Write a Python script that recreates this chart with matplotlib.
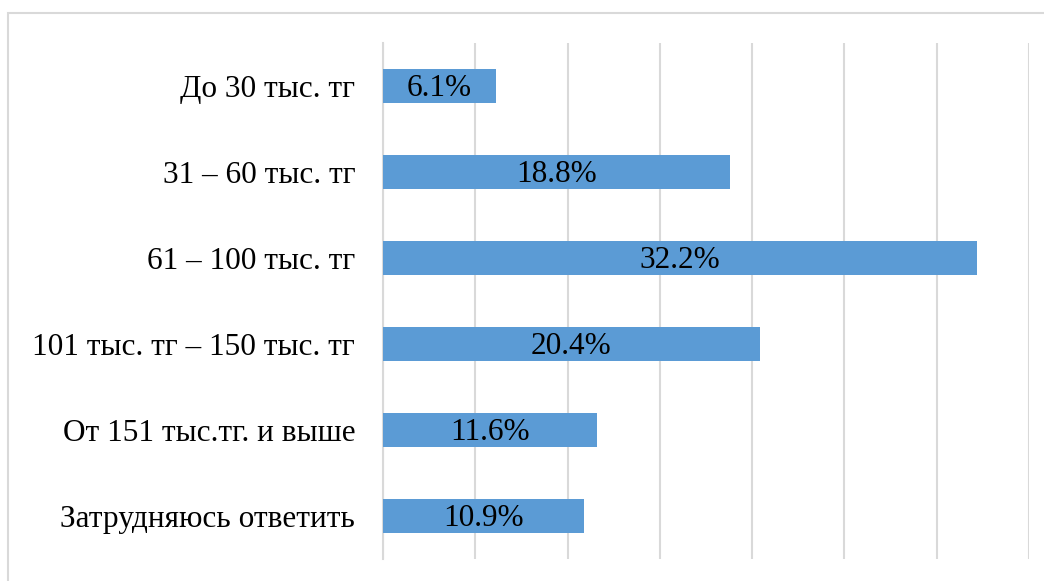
import matplotlib
matplotlib.use("Agg")
import matplotlib.pyplot as plt
from matplotlib.patches import Rectangle

categories = ["До 30 тыс. тг", "31 – 60 тыс. тг", "61 – 100 тыс. тг",
              "101 тыс. тг – 150 тыс. тг", "От 151 тыс.тг. и выше", "Затрудняюсь ответить"]
values = [6.1, 18.8, 32.2, 20.4, 11.6, 10.9]

plt.rcParams['font.family'] = ['Liberation Serif', 'DejaVu Serif']

W, H = 1044, 581
fig = plt.figure(figsize=(W/100, H/100), dpi=100)
ax = fig.add_axes([383/W, 1-559/H, (1029-383)/W, (559-43)/H])

pos = list(range(len(categories)))
ax.barh(pos, values, height=0.4, color='#5B9BD5', zorder=3)
ax.set_ylim(len(categories)-0.5, -0.5)
ax.set_xlim(0, 35)
ax.set_xticks([0, 5, 10, 15, 20, 25, 30, 35])
ax.set_xticklabels([])
ax.tick_params(axis='x', length=0)
ax.tick_params(axis='y', length=0, pad=20, labelsize=22.5)
ax.set_yticks(pos)
ax.set_yticklabels(categories)
ax.grid(axis='x', color='#D9D9D9', linewidth=1.5, zorder=0)
for s in ['top', 'right', 'bottom']:
    ax.spines[s].set_visible(False)
ax.spines['left'].set_color('#D9D9D9')
ax.spines['left'].set_linewidth(1.5)

for p, v in zip(pos, values):
    ax.text(v/2, p + 0.03, f"{v:.1f}%", ha='center', va='center', fontsize=22.5, color='black', zorder=4)

fig.patches.append(Rectangle((8/W, -0.1), 1.2, 1-13/H+0.1, transform=fig.transFigure,
                             fill=False, edgecolor='#D9D9D9', linewidth=1.5))

fig.savefig('out.png', dpi=100)
